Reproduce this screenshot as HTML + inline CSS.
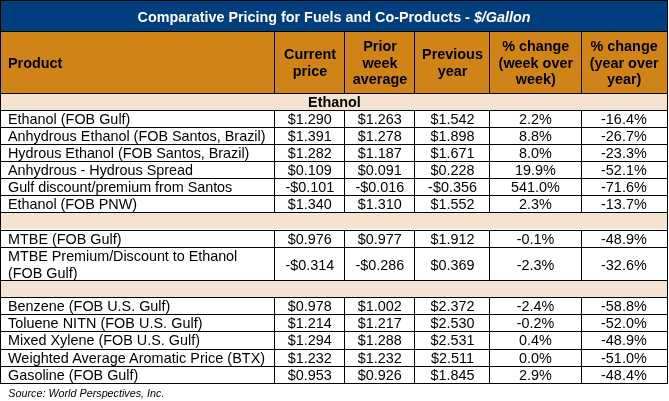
<!DOCTYPE html>
<html lang="en"><head><meta charset="utf-8"><title>Comparative Pricing for Fuels and Co-Products</title>
<style>
html,body{margin:0;padding:0;background:#fff;}
body{width:669px;height:401px;overflow:hidden;position:relative;font-family:"Liberation Sans",Arial,sans-serif;font-size:14.4px;line-height:16px;color:#000;}
#t{position:absolute;left:0;top:0;width:669px;height:401px;}
.f{position:absolute;}
.l{position:absolute;background:#000;}
.c{position:absolute;white-space:nowrap;text-align:center;height:16px;}
.p{position:absolute;white-space:nowrap;text-align:left;left:8px;height:16px;}
.b{font-weight:bold;}
.s{font-size:10.77px;font-style:italic;}
</style></head><body><div id="t">
<div class="f" style="left:0px;top:0px;width:668px;height:32px;background:#003e7e"></div>
<div class="f" style="left:0px;top:32px;width:668px;height:62px;background:#d08418"></div>
<div class="f" style="left:0px;top:94px;width:668px;height:17px;background:#f4e3d0"></div>
<div class="f" style="left:0px;top:213px;width:668px;height:16px;background:#f4e3d0"></div>
<div class="f" style="left:0px;top:281px;width:668px;height:17px;background:#f4e3d0"></div>
<div class="l" style="left:0;top:0px;width:668px;height:1px"></div>
<div class="l" style="left:0;top:31px;width:668px;height:1px"></div>
<div class="l" style="left:0;top:93px;width:668px;height:1px"></div>
<div class="l" style="left:0;top:110px;width:668px;height:1px"></div>
<div class="l" style="left:0;top:127px;width:668px;height:1px"></div>
<div class="l" style="left:0;top:144px;width:668px;height:1px"></div>
<div class="l" style="left:0;top:161px;width:668px;height:1px"></div>
<div class="l" style="left:0;top:178px;width:668px;height:1px"></div>
<div class="l" style="left:0;top:195px;width:668px;height:1px"></div>
<div class="l" style="left:0;top:212px;width:668px;height:1px"></div>
<div class="l" style="left:0;top:230px;width:668px;height:1px"></div>
<div class="l" style="left:0;top:247px;width:668px;height:1px"></div>
<div class="l" style="left:0;top:280px;width:668px;height:1px"></div>
<div class="l" style="left:0;top:297px;width:668px;height:1px"></div>
<div class="l" style="left:0;top:314px;width:668px;height:1px"></div>
<div class="l" style="left:0;top:331px;width:668px;height:1px"></div>
<div class="l" style="left:0;top:349px;width:668px;height:1px"></div>
<div class="l" style="left:0;top:366px;width:668px;height:1px"></div>
<div class="l" style="left:0;top:383px;width:668px;height:1px"></div>
<div class="l" style="left:0;top:0;width:1px;height:384px"></div>
<div class="l" style="left:667px;top:0;width:1px;height:384px"></div>
<div class="l" style="left:274px;top:31px;width:1px;height:63px"></div>
<div class="l" style="left:274px;top:110px;width:1px;height:103px"></div>
<div class="l" style="left:274px;top:230px;width:1px;height:51px"></div>
<div class="l" style="left:274px;top:297px;width:1px;height:87px"></div>
<div class="l" style="left:344px;top:31px;width:1px;height:63px"></div>
<div class="l" style="left:344px;top:110px;width:1px;height:103px"></div>
<div class="l" style="left:344px;top:230px;width:1px;height:51px"></div>
<div class="l" style="left:344px;top:297px;width:1px;height:87px"></div>
<div class="l" style="left:414px;top:31px;width:1px;height:63px"></div>
<div class="l" style="left:414px;top:110px;width:1px;height:103px"></div>
<div class="l" style="left:414px;top:230px;width:1px;height:51px"></div>
<div class="l" style="left:414px;top:297px;width:1px;height:87px"></div>
<div class="l" style="left:489px;top:31px;width:1px;height:63px"></div>
<div class="l" style="left:489px;top:110px;width:1px;height:103px"></div>
<div class="l" style="left:489px;top:230px;width:1px;height:51px"></div>
<div class="l" style="left:489px;top:297px;width:1px;height:87px"></div>
<div class="l" style="left:581px;top:31px;width:1px;height:63px"></div>
<div class="l" style="left:581px;top:110px;width:1px;height:103px"></div>
<div class="l" style="left:581px;top:230px;width:1px;height:51px"></div>
<div class="l" style="left:581px;top:297px;width:1px;height:87px"></div>
<div class="c b" style="left:0px;top:9px;width:668px;color:#fff;font-size:14.35px">Comparative Pricing for Fuels and Co-Products - <i>$/Gallon</i></div>
<div class="p b" style="top:55px">Product</div>
<div class="c b" style="left:275.5px;top:46px;width:69px">Current</div>
<div class="c b" style="left:275.5px;top:63px;width:69px">price</div>
<div class="c b" style="left:345.5px;top:38px;width:69px">Prior</div>
<div class="c b" style="left:345.5px;top:55px;width:69px">week</div>
<div class="c b" style="left:345.5px;top:71px;width:69px">average</div>
<div class="c b" style="left:415.5px;top:46px;width:74px">Previous</div>
<div class="c b" style="left:415.5px;top:63px;width:74px">year</div>
<div class="c b" style="left:490.3px;top:38px;width:91px">% change</div>
<div class="c b" style="left:490.3px;top:55px;width:91px">(week over</div>
<div class="c b" style="left:490.3px;top:71px;width:91px">week)</div>
<div class="c b" style="left:581.6px;top:38px;width:85px">% change</div>
<div class="c b" style="left:581.6px;top:55px;width:85px">(year over</div>
<div class="c b" style="left:581.6px;top:71px;width:85px">year)</div>
<div class="c b" style="left:0.5px;top:94px;width:668px">Ethanol</div>
<div class="p" style="top:111px">Ethanol (FOB Gulf)</div>
<div class="c" style="left:275.3px;top:111px;width:69px">$1.290</div>
<div class="c" style="left:345.3px;top:111px;width:69px">$1.263</div>
<div class="c" style="left:415.5px;top:111px;width:74px">$1.542</div>
<div class="c" style="left:490px;top:111px;width:91px">2.2%</div>
<div class="c" style="left:581.4px;top:111px;width:85px">-16.4%</div>
<div class="p" style="top:128px">Anhydrous Ethanol (FOB Santos, Brazil)</div>
<div class="c" style="left:275.3px;top:128px;width:69px">$1.391</div>
<div class="c" style="left:345.3px;top:128px;width:69px">$1.278</div>
<div class="c" style="left:415.5px;top:128px;width:74px">$1.898</div>
<div class="c" style="left:490px;top:128px;width:91px">8.8%</div>
<div class="c" style="left:581.4px;top:128px;width:85px">-26.7%</div>
<div class="p" style="top:145px;letter-spacing:-0.028px">Hydrous Ethanol (FOB Santos, Brazil)</div>
<div class="c" style="left:275.3px;top:145px;width:69px">$1.282</div>
<div class="c" style="left:345.3px;top:145px;width:69px">$1.187</div>
<div class="c" style="left:415.5px;top:145px;width:74px">$1.671</div>
<div class="c" style="left:490px;top:145px;width:91px">8.0%</div>
<div class="c" style="left:581.4px;top:145px;width:85px">-23.3%</div>
<div class="p" style="top:162px;letter-spacing:-0.025px">Anhydrous - Hydrous Spread</div>
<div class="c" style="left:275.3px;top:162px;width:69px">$0.109</div>
<div class="c" style="left:345.3px;top:162px;width:69px">$0.091</div>
<div class="c" style="left:415.5px;top:162px;width:74px">$0.228</div>
<div class="c" style="left:490px;top:162px;width:91px">19.9%</div>
<div class="c" style="left:581.4px;top:162px;width:85px">-52.1%</div>
<div class="p" style="top:179px;letter-spacing:-0.04px">Gulf discount/premium from Santos</div>
<div class="c" style="left:275.3px;top:179px;width:69px">-$0.101</div>
<div class="c" style="left:345.3px;top:179px;width:69px">-$0.016</div>
<div class="c" style="left:415.5px;top:179px;width:74px">-$0.356</div>
<div class="c" style="left:490px;top:179px;width:91px">541.0%</div>
<div class="c" style="left:581.4px;top:179px;width:85px">-71.6%</div>
<div class="p" style="top:196px;letter-spacing:-0.035px">Ethanol (FOB PNW)</div>
<div class="c" style="left:275.3px;top:196px;width:69px">$1.340</div>
<div class="c" style="left:345.3px;top:196px;width:69px">$1.310</div>
<div class="c" style="left:415.5px;top:196px;width:74px">$1.552</div>
<div class="c" style="left:490px;top:196px;width:91px">2.3%</div>
<div class="c" style="left:581.4px;top:196px;width:85px">-13.7%</div>
<div class="p" style="top:231px">MTBE (FOB Gulf)</div>
<div class="c" style="left:275.3px;top:231px;width:69px">$0.976</div>
<div class="c" style="left:345.3px;top:231px;width:69px">$0.977</div>
<div class="c" style="left:415.5px;top:231px;width:74px">$1.912</div>
<div class="c" style="left:490px;top:231px;width:91px">-0.1%</div>
<div class="c" style="left:581.4px;top:231px;width:85px">-48.9%</div>
<div class="p" style="top:248px;letter-spacing:-0.034px">MTBE Premium/Discount to Ethanol</div>
<div class="p" style="top:265px">(FOB Gulf)</div>
<div class="c" style="left:275.3px;top:257px;width:69px">-$0.314</div>
<div class="c" style="left:345.3px;top:257px;width:69px">-$0.286</div>
<div class="c" style="left:415.5px;top:257px;width:74px">$0.369</div>
<div class="c" style="left:490px;top:257px;width:91px">-2.3%</div>
<div class="c" style="left:581.4px;top:257px;width:85px">-32.6%</div>
<div class="p" style="top:298px">Benzene (FOB U.S. Gulf)</div>
<div class="c" style="left:275.3px;top:298px;width:69px">$0.978</div>
<div class="c" style="left:345.3px;top:298px;width:69px">$1.002</div>
<div class="c" style="left:415.5px;top:298px;width:74px">$2.372</div>
<div class="c" style="left:490px;top:298px;width:91px">-2.4%</div>
<div class="c" style="left:581.4px;top:298px;width:85px">-58.8%</div>
<div class="p" style="top:315px;letter-spacing:0.036px">Toluene NITN (FOB U.S. Gulf)</div>
<div class="c" style="left:275.3px;top:315px;width:69px">$1.214</div>
<div class="c" style="left:345.3px;top:315px;width:69px">$1.217</div>
<div class="c" style="left:415.5px;top:315px;width:74px">$2.530</div>
<div class="c" style="left:490px;top:315px;width:91px">-0.2%</div>
<div class="c" style="left:581.4px;top:315px;width:85px">-52.0%</div>
<div class="p" style="top:332px">Mixed Xylene (FOB U.S. Gulf)</div>
<div class="c" style="left:275.3px;top:332px;width:69px">$1.294</div>
<div class="c" style="left:345.3px;top:332px;width:69px">$1.288</div>
<div class="c" style="left:415.5px;top:332px;width:74px">$2.531</div>
<div class="c" style="left:490px;top:332px;width:91px">0.4%</div>
<div class="c" style="left:581.4px;top:332px;width:85px">-48.9%</div>
<div class="p" style="top:350px;letter-spacing:0.046px">Weighted Average Aromatic Price (BTX)</div>
<div class="c" style="left:275.3px;top:350px;width:69px">$1.232</div>
<div class="c" style="left:345.3px;top:350px;width:69px">$1.232</div>
<div class="c" style="left:415.5px;top:350px;width:74px">$2.511</div>
<div class="c" style="left:490px;top:350px;width:91px">0.0%</div>
<div class="c" style="left:581.4px;top:350px;width:85px">-51.0%</div>
<div class="p" style="top:367px">Gasoline (FOB Gulf)</div>
<div class="c" style="left:275.3px;top:367px;width:69px">$0.953</div>
<div class="c" style="left:345.3px;top:367px;width:69px">$0.926</div>
<div class="c" style="left:415.5px;top:367px;width:74px">$1.845</div>
<div class="c" style="left:490px;top:367px;width:91px">2.9%</div>
<div class="c" style="left:581.4px;top:367px;width:85px">-48.4%</div>
<div class="p s" style="top:385px;left:8.3px">Source: World Perspectives, Inc.</div>
</div></body></html>
